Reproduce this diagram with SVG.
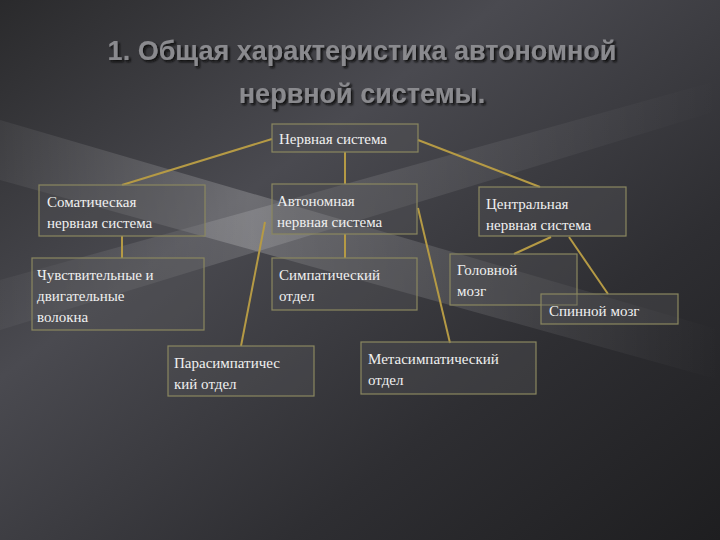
<svg xmlns="http://www.w3.org/2000/svg" width="720" height="540" viewBox="0 0 720 540">
<defs>
<linearGradient id="bg" x1="0" y1="0" x2="1" y2="1">
<stop offset="0" stop-color="#2a2a2c"/><stop offset="0.35" stop-color="#4a4a50"/><stop offset="0.7" stop-color="#2e2e32"/><stop offset="1" stop-color="#1e1e20"/>
</linearGradient>
<linearGradient id="ray" x1="0" y1="0" x2="1" y2="0">
<stop offset="0" stop-color="#fff" stop-opacity="0.05"/><stop offset="0.35" stop-color="#fff" stop-opacity="0.2"/><stop offset="1" stop-color="#fff" stop-opacity="0"/>
</linearGradient>
<filter id="sh" x="-10%" y="-30%" width="120%" height="160%"><feDropShadow dx="2" dy="2" stdDeviation="0.8" flood-color="#111"/></filter>
<style>
.b{fill:#55555a;fill-opacity:0.35;stroke:#8a8760;stroke-width:1.2}
.t{font-family:"Liberation Serif",serif;font-size:15px;fill:#f0f0f0}
.c line{stroke:#b59a45;stroke-width:2}
.h{font-family:"Liberation Sans",sans-serif;font-weight:bold;font-size:27px;text-anchor:middle;fill:#8a8a8e}
</style>
</defs>
<rect width="720" height="540" fill="url(#bg)"/>
<polygon points="0,180 0,120 720,330 720,380" fill="url(#ray)"/>
<polygon points="0,330 0,280 720,80 720,110" fill="url(#ray)" opacity="0.7"/>
<g class="h" filter="url(#sh)"><text x="362" y="60">1. Общая характеристика автономной</text><text x="362" y="103">нервной системы.</text></g>
<g class="c">
<line x1="272" y1="139" x2="122" y2="185"/>
<line x1="345" y1="152" x2="345" y2="184"/>
<line x1="418" y1="140" x2="540" y2="187"/>
<line x1="122" y1="236" x2="122" y2="258"/>
<line x1="345" y1="234" x2="345" y2="258"/>
<line x1="265" y1="222" x2="241" y2="346"/>
<line x1="418" y1="208" x2="450" y2="343"/>
<line x1="551" y1="237" x2="514" y2="254"/>
<line x1="569" y1="237" x2="608" y2="294"/>
</g>
<g id="n1"><rect class="b" x="272" y="124" width="146" height="28"/><text class="t" x="279" y="144">Нервная система</text></g>
<g id="n2"><rect class="b" x="39" y="185" width="166" height="51"/><text class="t" x="47" y="207">Соматическая</text><text class="t" x="47" y="228">нервная система</text></g>
<g id="n3"><rect class="b" x="272" y="184" width="145" height="50"/><text class="t" x="277" y="206">Автономная</text><text class="t" x="277" y="227">нервная система</text></g>
<g id="n4"><rect class="b" x="479" y="187" width="147" height="49"/><text class="t" x="486" y="209">Центральная</text><text class="t" x="486" y="230">нервная система</text></g>
<g id="n5"><rect class="b" x="32" y="258" width="172" height="72"/><text class="t" x="37" y="280">Чувствительные и</text><text class="t" x="37" y="301">двигательные</text><text class="t" x="37" y="322">волокна</text></g>
<g id="n6"><rect class="b" x="272" y="258" width="145" height="52"/><text class="t" x="279" y="280">Симпатический</text><text class="t" x="279" y="301">отдел</text></g>
<g id="n7"><rect class="b" x="450" y="254" width="127" height="51"/><text class="t" x="457" y="275">Головной</text><text class="t" x="457" y="296">мозг</text></g>
<g id="n8"><rect class="b" x="541" y="294" width="137" height="30"/><text class="t" x="549" y="316">Спинной мозг</text></g>
<g id="n9"><rect class="b" x="168" y="346" width="146" height="50"/><text class="t" x="174" y="368">Парасимпатичес</text><text class="t" x="174" y="389">кий отдел</text></g>
<g id="n10"><rect class="b" x="361" y="342" width="175" height="52"/><text class="t" x="368" y="364">Метасимпатический</text><text class="t" x="368" y="385">отдел</text></g>
</svg>
